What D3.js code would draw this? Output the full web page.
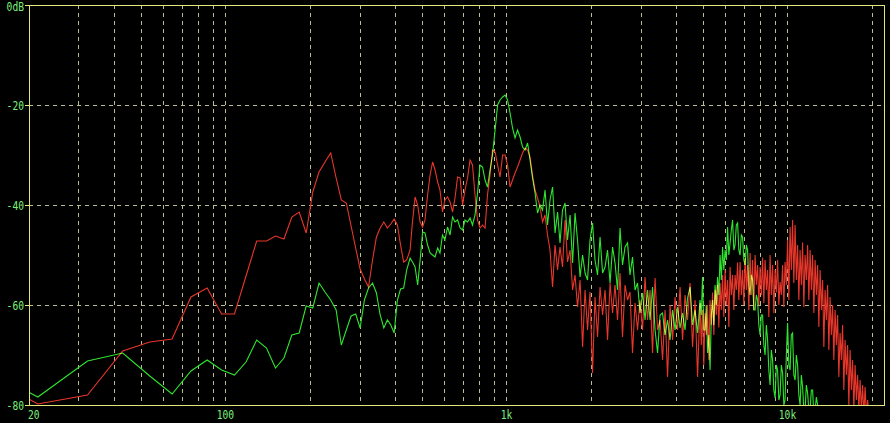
<!DOCTYPE html>
<html>
<head>
<meta charset="utf-8">
<script src="https://cdn.jsdelivr.net/npm/d3@7"></script>
<style>
  html, body { margin: 0; padding: 0; background: #000; }
  svg { display: block; }
</style>
</head>
<body>
<svg id="chart" width="890" height="423"></svg>
<script>
// ---------------- data ----------------
const freqs = [10.8, 21.5, 32.3, 43.1, 53.8, 64.6, 75.4, 86.1, 96.9, 107.7, 118.4, 129.2, 140, 150.7, 161.5, 172.3, 183, 193.8, 204.6, 215.3,
  226.1, 236.9, 247.7, 258.4, 269.2, 280, 290.7, 301.5, 312.3, 323, 333.8, 344.6, 355.3, 366.1, 376.9, 387.6, 398.4, 409.2, 419.9, 430.7, 441.5,
  454, 463, 473, 483, 493, 503, 513, 524, 535, 546, 557, 569, 580, 592, 604, 617, 630, 643, 656, 670, 684, 698, 712, 727, 742, 757, 773, 789,
  805, 822, 839, 856, 874, 892, 911, 930, 949, 969, 989, 1009, 1030, 1051, 1073, 1095, 1118, 1141, 1165, 1189, 1213, 1238, 1264, 1290, 1317, 1344,
  1372, 1400, 1429, 1459, 1489, 1520, 1551, 1583, 1616, 1649, 1684, 1719, 1754, 1790, 1828, 1866, 1904, 1943, 1983, 2024, 2066, 2109, 2153, 2198,
  2243, 2289, 2337, 2385, 2434, 2484, 2536, 2588, 2642, 2697, 2752, 2809, 2868, 2927, 2987, 3049, 3113, 3177, 3243, 3310, 3379, 3449, 3520, 3593,
  3667, 3743, 3821, 3900, 3981, 4063, 4147, 4233, 4320, 4409, 4501, 4594, 4689, 4786,
  4885, 4935, 4986, 5037, 5090, 5142, 5195, 5249, 5303, 5358, 5413, 5469, 5525, 5582, 5639, 5697,
  5756, 5815, 5875, 5935, 5997, 6059, 6121, 6184, 6248, 6312, 6377, 6443, 6509, 6576, 6644, 6712,
  6781, 6851, 6921, 6992, 7065, 7138, 7211, 7285, 7361, 7437, 7513, 7590, 7669, 7748, 7828, 7908,
  7989, 8071, 8154, 8238, 8323, 8409, 8495, 8582, 8671, 8760, 8850, 8941, 9034, 9127, 9221, 9316,
  9412, 9509, 9607, 9706, 9805, 9906, 10008, 10111, 10215, 10320, 10426, 10533, 10643, 10753, 10863, 10975,
  11088, 11202, 11317, 11434, 11552, 11671, 11791, 11912, 12035, 12159, 12284, 12410, 12539, 12668, 12798, 12930,
  13064, 13198, 13334, 13471, 13608, 13748, 13889, 14032, 14177, 14323, 14470, 14619, 14770, 14922, 15076, 15231,
  15388, 15546, 15706, 15868, 16032, 16197, 16363, 16532, 16702, 16874, 17047, 17222, 17401, 17580, 17761, 17944,
  18129, 18316, 18504, 18695, 18887, 19082, 19278, 19476, 19677,
  20084, 20500, 20924, 21357, 21800, 22050];

const redDb = [-70.4, -79.8, -78, -69.2, -67.4, -66.8, -58.4, -56.6, -61.8, -61.8, -54.2, -47.2, -47.2, -46.2, -46.8, -42.4, -41.4, -45.6, -37.4, -33.4,
  -31.4, -29.6, -34.6, -39, -39.6, -44.2, -48.6, -52.8, -54.8, -56.4, -51, -46.4, -44.6, -43.4, -44.6, -43.8, -42.8, -44, -48, -51.4, -51,
  -49, -43.4, -38.4, -40, -43.4, -44.4, -43, -38, -34, -31.4,
  -33, -35.4, -37, -41.4, -39, -38.4, -39.4, -41.4, -38.6, -34.4,
  -34.6, -40, -37, -34.6, -31, -32, -38, -43, -44.6, -44,
  -44.6, -38, -34, -29, -29.4, -32, -34.4, -30, -30, -32,
  -36.4, -35, -33.6, -32.4, -31, -29.6, -28.6, -29, -30.4, -34,
  -37, -38.6, -40.4, -43.4, -42, -46,
  -49, -56.4, -48, -53, -48.4, -52.4, -43, -51.4, -49, -57,
  -54, -60.4, -55, -68.4, -57, -65, -57.4, -73.6, -58.4, -66.4,
  -56.4, -62, -57, -67, -55.6, -61.6, -56, -63, -53.6, -66.4,
  -56, -59, -57.4, -69.6, -59.6, -65, -59, -65, -54.4, -63,
  -57, -69.6, -54.6, -65, -63, -71, -61, -74.4, -60, -67,
  -58.4, -65, -56.4, -67, -58, -63, -55.6, -68.4, -59, -74.4,
  -59.6, -68, -61, -72, -61.6, -66, -60, -71, -59, -64, -57.5, -66, -57, -62, -56, -64.5,
  -55.6, -61, -54, -62.4, -53, -60, -55, -64.4, -52.4, -58, -54, -61, -54, -57, -51.5, -59,
  -51.4, -58, -53, -60, -50.6, -57, -52, -61, -49.6, -58, -51, -61, -50, -56, -52, -60,
  -52.4, -58, -50.5, -59.6, -51, -57, -53, -62.4, -50, -58, -52, -61.6, -53, -57.5, -51, -60,
  -55.4, -58, -52, -60.4, -51.4, -56, -47, -59, -44.4, -53, -43, -55.6, -44, -55, -48, -59,
  -49, -56, -47.5, -60.4, -50, -55, -48, -59, -49, -57, -50, -61.6, -51, -58, -52, -64.4,
  -53, -61, -55, -68.4, -57, -63, -56, -69, -58.4, -66, -60, -71, -61, -68, -62, -74.4,
  -65.6, -71, -64, -77, -67, -74, -68, -80, -69, -77, -71, -81, -72, -79, -74, -81,
  -75, -81, -76, -82, -76.4, -82, -79, -82, -81,
  -85, -85, -85, -85, -85, -85];

const greenDb = [-69.8, -78.4, -71.2, -69.6, -74.2, -77.8, -73.2, -71, -73, -74, -71.4, -67, -68.6, -72.6, -70.6, -66, -65.6, -60.2, -60.6, -55.6,
  -57.4, -59, -61, -68, -65, -62.2, -61.8, -64.6, -59, -56.6, -55.6, -57.6, -62, -64.6, -63, -64, -65.6, -59, -56.8, -56.6, -53,
  -50.6, -51.4, -52.4, -56, -51, -45.4, -45.6, -48, -49.6, -50,
  -50.4, -48.6, -49.6, -46, -47, -44.4, -46, -42.4, -43.4, -43,
  -44.6, -45, -43, -43.4, -42.6, -44, -42, -37.6, -32, -32.4,
  -35, -36.4, -33, -30, -25, -20, -19, -18.4, -18, -19,
  -21.6, -24.6, -26.6, -25, -26.4, -28.4, -29, -27.6, -31, -34.6,
  -37.6, -41.6, -40, -41, -37, -44,
  -39, -36.4, -45.6, -41.4, -47.6, -41, -39.6, -47, -42, -51.6,
  -41.6, -47, -54.4, -50, -53.6, -55, -47, -43.6, -51, -54,
  -46.4, -53.6, -52.4, -49, -55.6, -48.4, -51.6, -57, -44.6, -52,
  -48.4, -47.6, -54, -50.4, -57, -55.6, -61.6, -57.6, -63, -57,
  -63, -56.4, -65, -69.6, -62, -61.6, -66, -63, -67, -61,
  -65, -60.4, -64.6, -61.6, -65, -58.6, -56.4, -64, -61, -65.6,
  -59, -62, -54.4, -65, -65, -60, -69.6, -66, -73, -62, -59, -64, -56, -60, -54.4, -58,
  -50, -55, -48.4, -53, -49, -51, -44.4, -50, -47.6, -45, -43, -49, -48, -44, -43.6, -49,
  -50, -46, -46.4, -51, -52, -48, -49, -56, -58, -54, -55, -61, -61, -58, -59, -64,
  -66, -62, -62, -68, -70, -64, -67, -73, -76, -69, -71, -77, -78.6, -72, -73, -79,
  -78, -72, -73.6, -80, -79, -70, -63.6, -72, -73, -66, -65.6, -74, -75, -70, -72, -78,
  -80, -74, -76.4, -81, -81, -76, -77.6, -81, -81, -77, -77, -82, -81, -78.4, -80, -85,
  -85, -85, -85, -85, -85, -85, -85, -85, -85, -85, -85, -85, -85, -85, -85, -85,
  -85, -85, -85, -85, -85, -85, -85, -85, -85, -85, -85, -85, -85, -85, -85, -85,
  -85, -85, -85, -85, -85, -85, -85, -85, -85,
  -85, -85, -85, -85, -85, -85];

const yTicks = [0, -20, -40, -60, -80];
const yTickLabels = ["0dB", "-20", "-40", "-60", "-80"];
const xGrid = [30, 40, 50, 60, 70, 80, 90, 100, 200, 300, 400, 500, 600, 700, 800, 900, 1000,
  2000, 3000, 4000, 5000, 6000, 7000, 8000, 9000, 10000, 20000];
const xLabelVals = [20, 100, 1000, 10000];
const xLabelText = ["20", "100", "1k", "10k"];

// ---------------- drawing ----------------
const svg = d3.select("#chart");
const W = 890, H = 423;
const m = {left: 29, top: 5, right: 884, bottom: 405};

svg.append("rect").attr("width", W).attr("height", H).attr("fill", "#000");

const x = d3.scaleLog().domain([20, 22050]).range([m.left, m.right]);
const y = d3.scaleLinear().domain([-80, 0]).range([m.bottom, m.top]);

const gridColor = "#bcbc90";
const frameColor = "#e4e87c";
const labelColor = "#7cf07c";

const grid = svg.append("g").attr("shape-rendering", "crispEdges");
grid.selectAll("line.v").data(xGrid).join("line")
  .attr("x1", d => Math.round(x(d)) + 0.5).attr("x2", d => Math.round(x(d)) + 0.5)
  .attr("y1", m.top).attr("y2", m.bottom)
  .attr("stroke", gridColor).attr("stroke-width", 1).attr("stroke-dasharray", "4,4");
grid.selectAll("line.h").data(yTicks.filter(d => d !== 0 && d !== -80)).join("line")
  .attr("y1", d => Math.round(y(d)) + 0.5).attr("y2", d => Math.round(y(d)) + 0.5)
  .attr("x1", m.left).attr("x2", m.right)
  .attr("stroke", gridColor).attr("stroke-width", 1).attr("stroke-dasharray", "4,4");

svg.append("clipPath").attr("id", "clip").append("rect")
  .attr("x", m.left).attr("y", m.top).attr("width", m.right - m.left).attr("height", m.bottom - m.top);

const line = d3.line().x(d => x(d[0])).y(d => y(d[1]));
const redPts = freqs.map((f, i) => [f, redDb[i]]);
const greenPts = freqs.map((f, i) => [f, greenDb[i]]);

const plot = svg.append("g").attr("clip-path", "url(#clip)").style("isolation", "isolate");
plot.append("path").datum(redPts).attr("d", line)
  .attr("fill", "none").attr("stroke", "#e8362a").attr("stroke-width", 1.1);
plot.append("path").datum(greenPts).attr("d", line)
  .attr("fill", "none").attr("stroke", "#2ee62e").attr("stroke-width", 1.1)
  .style("mix-blend-mode", "screen");

// frame
svg.append("rect").attr("x", m.left + 0.5).attr("y", m.top + 0.5)
  .attr("width", m.right - m.left).attr("height", m.bottom - m.top)
  .attr("fill", "none").attr("stroke", frameColor).attr("stroke-width", 1)
  .attr("shape-rendering", "crispEdges");

// y tick marks and labels
const font = "'DejaVu Sans Mono', 'Liberation Mono', monospace";
svg.selectAll("line.yt").data(yTicks).join("line")
  .attr("x1", m.left - 4).attr("x2", m.left)
  .attr("y1", d => Math.round(y(d)) + 0.5).attr("y2", d => Math.round(y(d)) + 0.5)
  .attr("stroke", frameColor).attr("shape-rendering", "crispEdges");
svg.selectAll("text.yl").data(yTicks).join("text")
  .attr("x", m.left - 5).attr("y", d => d === 0 ? 11 : y(d) + 5)
  .attr("text-anchor", "end").attr("fill", labelColor)
  .attr("textLength", (d, i) => yTickLabels[i].length * 5.8).attr("lengthAdjust", "spacingAndGlyphs")
  .style("font-family", font).style("font-size", "12px")
  .text((d, i) => yTickLabels[i]);

svg.selectAll("text.xl").data(xLabelVals).join("text")
  .attr("x", (d, i) => i === 0 ? x(d) - 1 : x(d))
  .attr("y", 419)
  .attr("text-anchor", (d, i) => i === 0 ? "start" : "middle")
  .attr("textLength", (d, i) => xLabelText[i].length * 5.8).attr("lengthAdjust", "spacingAndGlyphs")
  .attr("fill", labelColor)
  .style("font-family", font).style("font-size", "12px")
  .text((d, i) => xLabelText[i]);
</script>
</body>
</html>
